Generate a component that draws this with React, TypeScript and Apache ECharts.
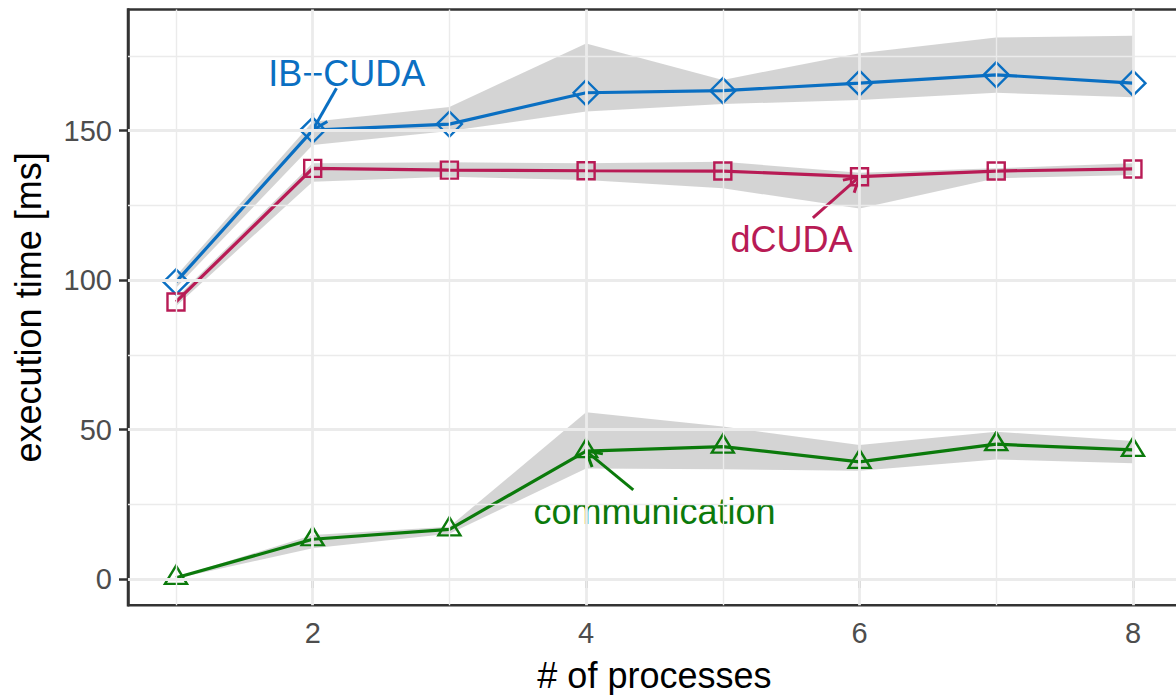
import React, { useEffect, useRef } from "react";
import * as echarts from "echarts";

// ---- data ----
const processes = [1, 2, 3, 4, 5, 6, 7, 8];

const ibCudaMean = [99.4, 150.2, 152.2, 162.7, 163.4, 165.9, 168.7, 165.9];
const ibCudaLow = [97.4, 145.2, 149.9, 156.4, 158.9, 160.3, 162.7, 161.2];
const ibCudaHigh = [101.4, 153.0, 157.9, 179.2, 167.0, 175.9, 181.2, 181.8];

const dCudaMean = [92.7, 137.4, 136.8, 136.6, 136.5, 134.6, 136.5, 137.2];
const dCudaLow = [91.3, 132.9, 134.6, 133.5, 130.7, 124.0, 134.1, 135.2];
const dCudaHigh = [94.0, 139.1, 139.4, 139.1, 139.6, 135.9, 137.4, 139.1];

const commMean = [0.4, 13.3, 16.6, 42.8, 44.3, 39.2, 45.1, 43.2];
const commLow = [0.2, 10.3, 15.1, 37.0, 36.7, 36.2, 40.0, 38.7];
const commHigh = [0.6, 14.7, 17.5, 55.8, 51.0, 44.8, 49.3, 46.2];

const xTicks = [2, 4, 6, 8];
const xMinorGrid = [1, 3, 5, 7];
const yTicks = [0, 50, 100, 150];
const yMinorGrid = [25, 75, 125, 175];

// annotation labels (data coordinates): text centre, arrow start, arrow tip
const annLabels = ["IB\u2212CUDA", "dCUDA", "communication"];
const annText = [[2.249, 169.3], [5.503, 113.6], [4.5, 22.6]];
const annFrom = [[2.174, 164.2], [5.659, 120.8], [4.345, 29.8]];
const annTo = [[2, 150.2], [6, 134.6], [4, 42.8]];

// ---- styles ----
const FONT = "'Liberation Sans', Arial, Helvetica, sans-serif";
const BLUE = "#0A6FC2";
const CRIMSON = "#B81B55";
const GREEN = "#0B7A0B";
const annColors = [BLUE, CRIMSON, GREEN];
const RIBBON = "rgba(128,128,128,0.34)";
const GRID = "#EBEBEB";
const DARK = "#333333";

function ribbonSeries(name: string, low: number[], high: number[]) {
  return {
    type: "custom",
    name,
    z: 2,
    silent: true,
    data: processes.map((x, i) => [x, low[i], high[i]]),
    renderItem: (params: any, api: any) => {
      if (params.dataIndex !== 0) return null;
      const upper = processes.map((x, i) => api.coord([x, high[i]]));
      const lower = processes.map((x, i) => api.coord([x, low[i]])).reverse();
      return {
        type: "polygon",
        shape: { points: upper.concat(lower) },
        style: { fill: RIBBON, stroke: "none" },
      };
    },
  };
}

function lineSeries(
  name: string,
  values: number[],
  color: string,
  symbol: string,
  size: number | number[],
  offset: number[]
) {
  return {
    type: "line",
    name,
    z: 3,
    data: processes.map((x, i) => [x, values[i]]),
    symbol,
    symbolSize: size,
    symbolOffset: offset,
    showAllSymbol: true,
    lineStyle: { color, width: 3.2 },
    itemStyle: { color: "rgba(0,0,0,0)", borderColor: color, borderWidth: 2.4 },
    emphasis: { disabled: true },
  };
}

export default function App() {
  const ref = useRef<HTMLDivElement>(null);

  useEffect(() => {
    if (!ref.current) return;
    const chart = echarts.init(ref.current, undefined, { renderer: "svg" });

    const gridLines = [
      ...xTicks.map((v) => ({ xAxis: v, lineStyle: { color: GRID, width: 2.8, type: "solid" } })),
      ...xMinorGrid.map((v) => ({ xAxis: v, lineStyle: { color: GRID, width: 1.4, type: "solid" } })),
      ...yTicks.map((v) => ({ yAxis: v, lineStyle: { color: GRID, width: 2.8, type: "solid" } })),
      ...yMinorGrid.map((v) => ({ yAxis: v, lineStyle: { color: GRID, width: 1.4, type: "solid" } })),
    ];

    const option: any = {
      animation: false,
      backgroundColor: "#ffffff",
      textStyle: { fontFamily: FONT },
      grid: {
        left: 128,
        right: -4.8,
        top: 9.5,
        bottom: 89.7,
        show: true,
        borderColor: DARK,
        borderWidth: 2.5,
        backgroundColor: "#ffffff",
        containLabel: false,
        outerBoundsMode: "none",
      },
      xAxis: {
        type: "value",
        min: 0.649,
        max: 8.35,
        name: "# of processes",
        nameLocation: "middle",
        nameGap: 52,
        nameTextStyle: { fontSize: 36, color: "#000000", fontFamily: FONT },
        axisLine: { show: true, lineStyle: { color: DARK, width: 2.5 } },
        axisTick: { show: true, length: 9, lineStyle: { color: DARK, width: 2.5 }, customValues: xTicks },
        axisLabel: { fontSize: 29, color: "#4D4D4D", margin: 13, fontFamily: FONT, customValues: xTicks },
        splitLine: { show: false },
      },
      yAxis: {
        type: "value",
        min: -8.8,
        max: 190.55,
        name: "execution time [ms]",
        nameLocation: "middle",
        nameGap: 82,
        nameTextStyle: { fontSize: 36, color: "#000000", fontFamily: FONT },
        axisLine: { show: true, lineStyle: { color: DARK, width: 2.5 } },
        axisTick: { show: true, length: 9, lineStyle: { color: DARK, width: 2.5 }, customValues: yTicks },
        axisLabel: { fontSize: 29, color: "#4D4D4D", margin: 16, fontFamily: FONT, customValues: yTicks },
        splitLine: { show: false },
      },
      series: [
        {
          type: "line",
          name: "grid",
          z: 1,
          silent: true,
          data: [[1, 0]],
          symbol: "none",
          lineStyle: { width: 0 },
          markLine: {
            silent: true,
            symbol: ["none", "none"],
            label: { show: false },
            animation: false,
            data: gridLines,
          },
        },
        ribbonSeries("IB-CUDA range", ibCudaLow, ibCudaHigh),
        ribbonSeries("dCUDA range", dCudaLow, dCudaHigh),
        ribbonSeries("communication range", commLow, commHigh),
        lineSeries("IB-CUDA", ibCudaMean, BLUE, "diamond", [25, 25], [0, 0]),
        lineSeries("dCUDA", dCudaMean, CRIMSON, "rect", [17, 17], [0, 0]),
        lineSeries("communication", commMean, GREEN, "triangle", [22, 18], [0, -3]),
        {
          type: "custom",
          name: "annotations",
          z: 4,
          silent: true,
          data: annText.map((p) => [p[0], p[1]]),
          renderItem: (params: any, api: any) => {
            const i = params.dataIndex;
            const color = annColors[i];
            const t = api.coord(annText[i]);
            const a = api.coord(annFrom[i]);
            const b = api.coord(annTo[i]);
            const dx = b[0] - a[0];
            const dy = b[1] - a[1];
            const len = Math.sqrt(dx * dx + dy * dy);
            const ux = -dx / len;
            const uy = -dy / len;
            const L = 17;
            const ang = (30 * Math.PI) / 180;
            const rot = (s: number) => [
              b[0] + L * (ux * Math.cos(s * ang) - uy * Math.sin(s * ang)),
              b[1] + L * (ux * Math.sin(s * ang) + uy * Math.cos(s * ang)),
            ];
            return {
              type: "group",
              children: [
                {
                  type: "line",
                  shape: { x1: a[0], y1: a[1], x2: b[0], y2: b[1] },
                  style: { stroke: color, lineWidth: 3 },
                },
                {
                  type: "polyline",
                  shape: { points: [rot(1), b, rot(-1)] },
                  style: { stroke: color, lineWidth: 3, fill: "none" },
                },
                {
                  type: "text",
                  x: t[0],
                  y: t[1],
                  style: {
                    text: annLabels[i],
                    fill: color,
                    fontSize: 36,
                    fontFamily: FONT,
                    align: "center",
                    verticalAlign: "middle",
                  },
                },
              ],
            };
          },
        },
      ],
    };

    chart.setOption(option);
    return () => chart.dispose();
  }, []);

  return (
    <div
      ref={ref}
      style={{ position: "fixed", left: 0, top: 0, width: 1176, height: 695, background: "#fff" }}
    />
  );
}
